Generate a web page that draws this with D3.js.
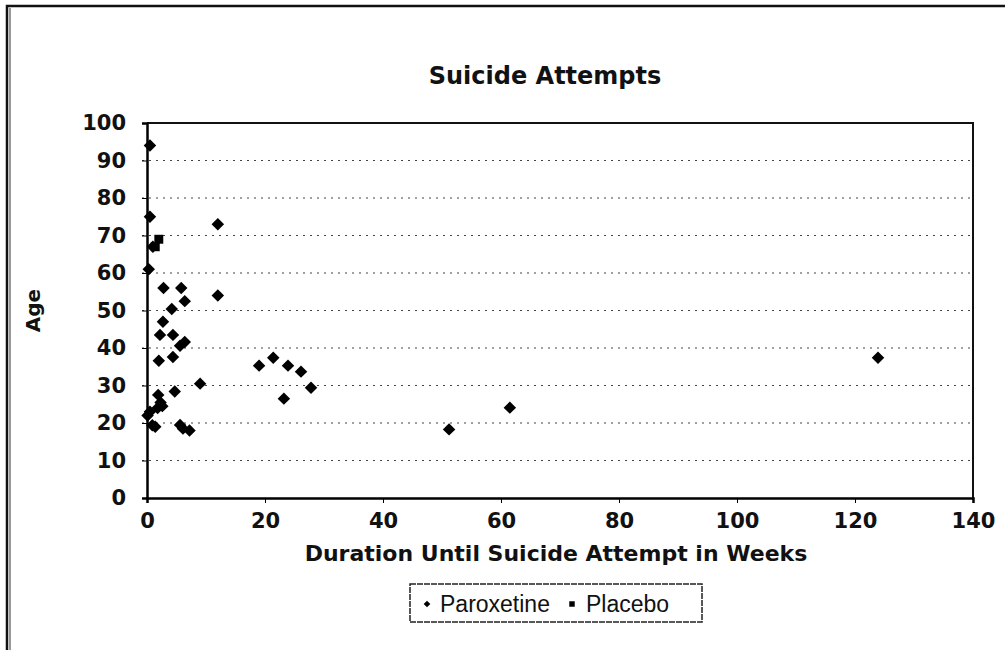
<!DOCTYPE html>
<html lang="en">
<head>
<meta charset="utf-8">
<title>Suicide Attempts</title>
<script src="https://cdn.jsdelivr.net/npm/d3@7/dist/d3.min.js"></script>
<style>
  body { margin: 0; background: #fff; }
  text { font-family: "DejaVu Sans", Arial, sans-serif; font-weight: bold; fill: #111; }
</style>
</head>
<body>
<script>
// weeks until attempt and age
var paroxWeeks = [0.5, 0.5, 12, 0.3, 2.8, 5.8, 6.4, 12, 4.2, 2.7, 2.2, 4.4, 6.4, 5.6, 2.0, 4.4,
                  9, 4.7, 1.9, 2.3, 2.6, 1.8, 0.5, 0.1, 0.9, 1.4, 5.6, 6.1, 7.2,
                  19, 21.4, 23.9, 26.1, 27.8, 23.2, 61.5, 51.2, 123.9, 1.0];
var paroxAge   = [94, 75, 73, 61, 56, 56, 52.5, 54, 50.4, 47, 43.5, 43.5, 41.6, 40.6, 36.6, 37.6,
                  30.5, 28.4, 27.5, 25.5, 24.5, 24, 23, 22, 19.4, 19, 19.5, 18.5, 18,
                  35.3, 37.4, 35.3, 33.7, 29.4, 26.5, 24.1, 18.3, 37.4, 67];
var placeboWeeks = [1.4, 2.0];
var placeboAge   = [67, 69];

var xTicks = [0, 20, 40, 60, 80, 100, 120, 140];
var yTicks = [0, 10, 20, 30, 40, 50, 60, 70, 80, 90, 100];

var W = 1005, H = 655;
var plotL = 147, plotR = 973, plotT = 123, plotB = 498;

var svg = d3.select("body").append("svg")
    .attr("width", W).attr("height", H);

// outer chart border (scan edge)
svg.append("path")
   .attr("d", "M7,650 L7,6 L1005,6")
   .attr("fill", "none").attr("stroke", "#111").attr("stroke-width", 2.5);
svg.append("line")
   .attr("x1", 10).attr("x2", 10).attr("y1", 8).attr("y2", 650)
   .attr("stroke", "#333").attr("stroke-width", 1);

var x = d3.scaleLinear().domain([0, 140]).range([plotL, plotR]);
var y = d3.scaleLinear().domain([0, 100]).range([plotB, plotT]);

// dotted gridlines
svg.append("g").selectAll("line")
   .data(yTicks.filter(function(d){ return d > 0 && d < 100; }))
   .enter().append("line")
   .attr("x1", plotL - 5).attr("x2", plotR)
   .attr("y1", function(d){ return y(d); }).attr("y2", function(d){ return y(d); })
   .attr("stroke", "#444").attr("stroke-width", 1.2)
   .attr("stroke-dasharray", "2,5");

// plot frame top and right
svg.append("path")
   .attr("d", "M" + plotL + "," + plotT + " L" + plotR + "," + plotT + " L" + plotR + "," + plotB)
   .attr("fill", "none").attr("stroke", "#111").attr("stroke-width", 2);

// axes
var yAxis = d3.axisLeft(y).tickValues(yTicks).tickSize(5).tickPadding(16);
var gy = svg.append("g").attr("transform", "translate(" + plotL + ",0)").call(yAxis);
gy.select(".domain").attr("stroke", "#000").attr("stroke-width", 2.5);
gy.selectAll("text").style("font-size", "21px");

var xAxis = d3.axisBottom(x).tickValues(xTicks).tickSize(5).tickPadding(10);
var gx = svg.append("g").attr("transform", "translate(0," + plotB + ")").call(xAxis);
gx.select(".domain").attr("stroke", "#000").attr("stroke-width", 2.5);
gx.selectAll("text").style("font-size", "21px");

// markers: Excel style diamonds (rotated squares) and squares
var diamond = d3.symbol().type(d3.symbolSquare).size(78);
var square = d3.symbol().type(d3.symbolSquare).size(80);

svg.append("g").selectAll("path")
   .data(d3.range(paroxWeeks.length))
   .enter().append("path")
   .attr("d", diamond)
   .attr("transform", function(i){
       return "translate(" + x(paroxWeeks[i]) + "," + y(paroxAge[i]) + ") rotate(45)";
   })
   .attr("fill", "#000");

svg.append("g").selectAll("path")
   .data(d3.range(placeboWeeks.length))
   .enter().append("path")
   .attr("d", square)
   .attr("transform", function(i){ return "translate(" + x(placeboWeeks[i]) + "," + y(placeboAge[i]) + ")"; })
   .attr("fill", "#000");

// titles
svg.append("text").attr("x", 545).attr("y", 84).attr("text-anchor", "middle")
   .style("font-size", "24px").text("Suicide Attempts");

svg.append("text").attr("x", 556).attr("y", 561).attr("text-anchor", "middle")
   .style("font-size", "22px").text("Duration Until Suicide Attempt in Weeks");

svg.append("text").attr("transform", "translate(40," + ((plotT + plotB) / 2) + ") rotate(-90)")
   .attr("text-anchor", "middle").style("font-size", "20px").text("Age");

// legend
var lg = svg.append("g").attr("transform", "translate(410,584)");
lg.append("rect").attr("width", 292).attr("height", 38)
  .attr("fill", "#fff").attr("stroke", "#222").attr("stroke-width", 1.5)
  .attr("stroke-dasharray", "6,1");
lg.append("path").attr("d", d3.symbol().type(d3.symbolSquare).size(22))
  .attr("transform", "translate(17,20) rotate(45)").attr("fill", "#000");
lg.append("text").attr("x", 30).attr("y", 28)
  .style("font-family", "'Liberation Sans', Arial, sans-serif")
  .style("font-size", "23px").style("font-weight", "normal")
  .text("Paroxetine");
lg.append("path").attr("d", d3.symbol().type(d3.symbolSquare).size(30))
  .attr("transform", "translate(162,20)").attr("fill", "#000");
lg.append("text").attr("x", 176).attr("y", 28)
  .style("font-family", "'Liberation Sans', Arial, sans-serif")
  .style("font-size", "23px").style("font-weight", "normal")
  .text("Placebo");
</script>
</body>
</html>
